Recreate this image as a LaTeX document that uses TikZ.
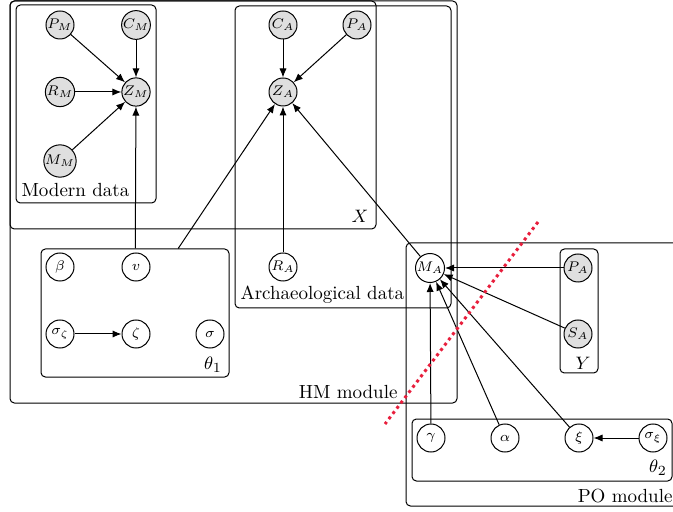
\documentclass[tikz,border=0pt]{standalone}
\usetikzlibrary{arrows.meta,fit}
\definecolor{obsgray}{gray}{0.875}
\definecolor{cutred}{RGB}{232,30,60}
\begin{document}
\begin{tikzpicture}[x=0.5pt,y=-0.5pt,line width=0.5pt,
  var/.style={circle,draw,minimum size=14pt,inner sep=0pt,font=\fontsize{7}{8}\selectfont},
  obs/.style={var,fill=obsgray},
  plate/.style={draw,rounded corners=2.2pt,inner sep=0pt},
  edge/.style={-{Latex[length=4.5pt,width=3.6pt]}},
  lbl/.style={font=\fontsize{9.5}{11}\selectfont,inner sep=0pt},
  cut/.style={draw=cutred,line width=1.5pt,dash pattern=on 1.5pt off 1.8pt}]
\clip (0,0) rectangle (673,512);
% plates
\node[plate,fit={(10,1) (457,403)}] (HM) {};
\node[plate,fit={(10,1) (376,229)}] (X) {};
\node[plate,fit={(16,5) (156,203)}] (modern) {};
\node[plate,fit={(235,6) (451,308)}] (arch) {};
\node[plate,fit={(41,249) (229,377)}] (theta1) {};
\node[plate,fit={(406,243) (690,506)}] (PO) {};
\node[plate,fit={(412,419) (672,481)}] (theta2) {};
\node[plate,fit={(560,249) (598,373)}] (Y) {};
% plate labels
\node[lbl,anchor=base west] (lmodern) at (21,197) {Modern data};
\node[lbl] (lX) at (360,216) {$X$};
\node[lbl,anchor=base west] (larch) at (240,300) {Archaeological data};
\node[lbl] (ltheta1) at (213,365) {$\theta_1$};
\node[lbl,anchor=base east] (lHM) at (398,398) {HM module};
\node[lbl] (lY) at (583,363) {$Y$};
\node[lbl] (ltheta2) at (658,468) {$\theta_2$};
\node[lbl,anchor=base east] (lPO) at (673,502) {PO module};
% modern data
\node[obs] (PM) at (60,25) {$P_M$};
\node[obs] (CM) at (136,25) {$C_M$};
\node[obs] (RM) at (60,92) {$R_M$};
\node[obs] (ZM) at (136,92) {$Z_M$};
\node[obs] (MM) at (60,161) {$M_M$};
% archaeological data
\node[obs] (CA) at (283,25) {$C_A$};
\node[obs] (PAt) at (357,25) {$P_A$};
\node[obs] (ZA) at (283,92) {$Z_A$};
\node[var] (RA) at (283,267) {$R_A$};
% theta1
\node[var] (beta) at (60,267) {$\beta$};
\node[var] (v) at (136,267) {$v$};
\node[var] (sz) at (60,334) {$\sigma_\zeta$};
\node[var] (zeta) at (136,334) {$\zeta$};
\node[var] (sigma) at (210,334) {$\sigma$};
% PO module
\node[var] (MA) at (430,268) {$M_A$};
\node[obs] (PA) at (578,268) {$P_A$};
\node[obs] (SA) at (578,334) {$S_A$};
\node[var] (gamma) at (431,438) {$\gamma$};
\node[var] (alpha) at (505,438) {$\alpha$};
\node[var] (xi) at (579,438) {$\xi$};
\node[var] (sxi) at (653,438) {$\sigma_\xi$};
% edges
\draw[edge] (PM) -- (ZM);
\draw[edge] (CM) -- (ZM);
\draw[edge] (RM) -- (ZM);
\draw[edge] (MM) -- (ZM);
\draw[edge] (CA) -- (ZA);
\draw[edge] (PAt) -- (ZA);
\draw[edge] (RA) -- (ZA);
\draw[edge] (theta1) -- (ZM);
\draw[edge] (theta1) -- (ZA);
\draw[edge] (MA) -- (ZA);
\draw[edge] (sz) -- (zeta);
\draw[edge] (PA) -- (MA);
\draw[edge] (SA) -- (MA);
\draw[edge] (gamma) -- (MA);
\draw[edge] (alpha) -- (MA);
\draw[edge] (xi) -- (MA);
\draw[edge] (sxi) -- (xi);
% cut
\coordinate (cutA) at (538,222);
\coordinate (cutB) at (385,424);
\draw[cut] (cutA) -- (cutB);
\end{tikzpicture}
\end{document}
